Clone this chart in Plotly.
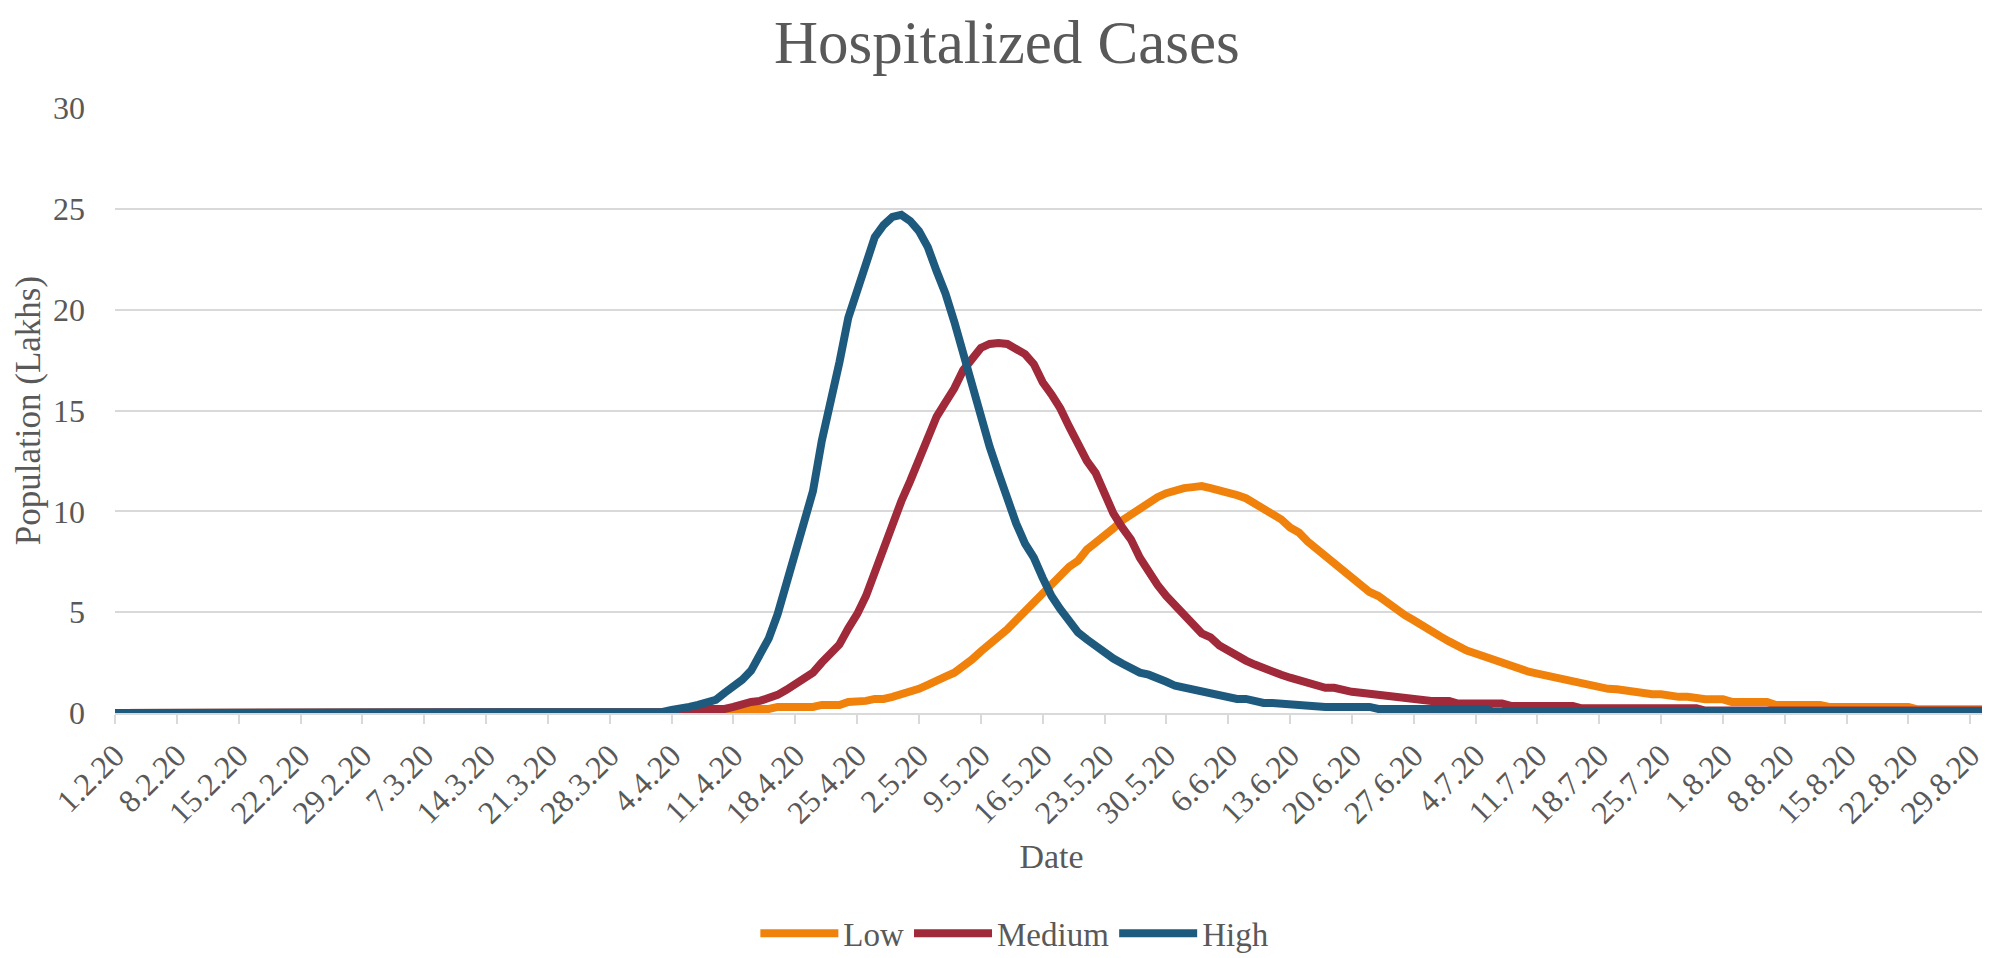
import pandas as pd
import plotly.graph_objects as go

# daily dates 1.2.20 -> 31.8.20
dates = pd.date_range("2020-02-01", "2020-08-31", freq="D")

tick_dates = pd.date_range("2020-02-01", "2020-08-29", freq="7D")
tick_labels = [
    "1.2.20", "8.2.20", "15.2.20", "22.2.20", "29.2.20", "7.3.20", "14.3.20",
    "21.3.20", "28.3.20", "4.4.20", "11.4.20", "18.4.20", "25.4.20", "2.5.20",
    "9.5.20", "16.5.20", "23.5.20", "30.5.20", "6.6.20", "13.6.20", "20.6.20",
    "27.6.20", "4.7.20", "11.7.20", "18.7.20", "25.7.20", "1.8.20", "8.8.20",
    "15.8.20", "22.8.20", "29.8.20",
]

# hospitalized population in lakhs, one row per week
low = [
    0, 0, 0, 0, 0, 0, 0,
    0, 0, 0, 0, 0, 0, 0,
    0.03, 0.03, 0.03, 0.03, 0.03, 0.03, 0.03,
    0.03, 0, 0, 0, 0, 0, 0,
    0, 0, 0, 0, 0, 0, 0,
    0, 0, 0, 0, 0, 0, 0,
    0, 0, 0, 0, 0, 0, 0,
    0, 0, 0, 0, 0, 0, 0,
    0, 0, 0, 0, 0, 0, 0,
    0, 0, 0, 0, 0.02, 0.03, 0.05,
    0.1, 0.2, 0.2, 0.2, 0.2, 0.3, 0.3,
    0.3, 0.3, 0.3, 0.4, 0.4, 0.4, 0.55,
    0.55, 0.6, 0.7, 0.7, 0.8, 0.9, 1.05,
    1.2, 1.4, 1.55, 1.8, 2.0, 2.3, 2.65,
    3.05, 3.4, 3.8, 4.15, 4.6, 5.05, 5.5,
    5.95, 6.4, 6.85, 7.25, 7.55, 8.1, 8.45,
    8.75, 9.15, 9.55, 9.85, 10.15, 10.4, 10.7,
    10.9, 11.05, 11.15, 11.2, 11.25, 11.15, 11.05,
    11.0, 10.8, 10.65, 10.4, 10.2, 9.9, 9.6,
    9.2, 8.95, 8.5, 8.15, 7.8, 7.5, 7.05,
    6.75, 6.4, 6.0, 5.8, 5.45, 5.2, 4.85,
    4.6, 4.3, 4.05, 3.8, 3.55, 3.3, 3.1,
    2.95, 2.8, 2.55, 2.45, 2.3, 2.15, 2.05,
    1.95, 1.85, 1.75, 1.6, 1.5, 1.45, 1.35,
    1.3, 1.2, 1.18, 1.1, 1.06, 1.0, 0.93,
    0.93, 0.85, 0.8, 0.8, 0.7, 0.68, 0.68,
    0.68, 0.55, 0.55, 0.55, 0.55, 0.55, 0.4,
    0.4, 0.4, 0.4, 0.4, 0.4, 0.3, 0.3,
    0.3, 0.3, 0.3, 0.3, 0.3, 0.3, 0.3,
    0.3, 0.18, 0.18, 0.18, 0.18, 0.18, 0.18,
    0.18, 0.18, 0.18,
]

medium = [
    0, 0, 0, 0, 0, 0, 0,
    0, 0, 0, 0, 0, 0, 0,
    0, 0, 0, 0, 0, 0, 0,
    0.03, 0.03, 0.03, 0.03, 0.03, 0.03, 0.03,
    0.03, 0.03, 0.03, 0.03, 0.03, 0.03, 0,
    0, 0, 0, 0, 0, 0, 0,
    0, 0, 0, 0, 0, 0, 0,
    0, 0, 0, 0, 0, 0, 0,
    0, 0, 0, 0, 0, 0, 0,
    0.05, 0.1, 0.18, 0.2, 0.2, 0.2, 0.2,
    0.3, 0.45, 0.55, 0.6, 0.7, 0.9, 1.15,
    1.4, 1.7, 2.0, 2.5, 3.0, 3.4, 4.2,
    4.9, 5.8, 7.0, 8.0, 9.2, 10.5, 11.5,
    12.5, 13.6, 14.7, 15.4, 16.1, 17.0, 17.6,
    18.1, 18.3, 18.35, 18.3, 18.0, 17.8, 17.3,
    16.4, 15.8, 15.1, 14.2, 13.3, 12.5, 11.9,
    10.9, 9.9, 9.2, 8.6, 7.7, 7.0, 6.35,
    5.8, 5.3, 4.8, 4.3, 3.95, 3.75, 3.35,
    3.1, 2.8, 2.6, 2.4, 2.2, 2.05, 1.9,
    1.75, 1.6, 1.45, 1.3, 1.25, 1.25, 1.1,
    1.05, 1.0, 0.95, 0.9, 0.85, 0.75, 0.7,
    0.7, 0.6, 0.6, 0.6, 0.6, 0.47, 0.47,
    0.47, 0.47, 0.47, 0.47, 0.35, 0.35, 0.35,
    0.35, 0.35, 0.35, 0.35, 0.35, 0.23, 0.23,
    0.23, 0.23, 0.23, 0.23, 0.23, 0.23, 0.23,
    0.23, 0.23, 0.23, 0.23, 0.23, 0.12, 0.12,
    0.12, 0.12, 0.12, 0.12, 0.12, 0.12, 0.12,
    0.12, 0.12, 0.12, 0.12, 0.12, 0.12, 0.12,
    0.12, 0.12, 0.12, 0.12, 0.12, 0.12, 0.12,
    0.12, 0.12, 0.12, 0.12, 0.12, 0.12, 0.12,
    0.12, 0.12, 0.12,
]

high = [
    0, 0, 0, 0, 0, 0, 0,
    0, 0, 0, 0, 0, 0, 0,
    0, 0, 0, 0, 0, 0, 0,
    0, 0, 0, 0, 0, 0, 0,
    0, 0, 0, 0, 0, 0, 0,
    0, 0, 0, 0, 0, 0, 0,
    0, 0, 0, 0, 0, 0, 0,
    0, 0, 0, 0, 0, 0, 0,
    0, 0, 0, 0, 0, 0, 0.05,
    0.15, 0.2, 0.3, 0.4, 0.55, 0.65, 1.0,
    1.3, 1.65, 2.1, 2.9, 3.7, 4.9, 6.4,
    7.7, 9.2, 11.0, 13.5, 15.3, 17.4, 19.6,
    21.0, 22.4, 23.6, 24.2, 24.6, 24.7, 24.4,
    23.9, 23.1, 21.9, 20.8, 19.4, 17.8, 16.3,
    14.7, 13.2, 11.9, 10.6, 9.4, 8.4, 7.7,
    6.7, 5.8, 5.15, 4.6, 4.0, 3.65, 3.3,
    3.0, 2.7, 2.45, 2.2, 2.0, 1.9, 1.76,
    1.55, 1.35, 1.25, 1.15, 1.0, 0.9, 0.85,
    0.75, 0.7, 0.7, 0.55, 0.5, 0.5, 0.45,
    0.4, 0.4, 0.4, 0.3, 0.3, 0.3, 0.3,
    0.3, 0.3, 0.3, 0.2, 0.2, 0.2, 0.2,
    0.2, 0.2, 0.2, 0.2, 0.2, 0.2, 0.2,
    0.2, 0.2, 0.07, 0.07, 0.07, 0.07, 0.07,
    0.07, 0.07, 0.07, 0.07, 0.07, 0.07, 0.07,
    0.07, 0.07, 0.07, 0.07, 0.07, 0.07, 0.07,
    0.07, 0.07, 0.07, 0.07, 0.07, 0.07, 0.07,
    0.07, 0.07, 0.07, 0.07, 0.07, 0.07, 0.07,
    0.07, 0.07, 0.07, 0.07, 0.07, 0.07, 0.07,
    0.07, 0.07, 0.07, 0.07, 0.07, 0.07, 0.07,
    0.07, 0.07, 0.07, 0.07, 0.07, 0.07, 0.07,
    0.07, 0.07, 0.07,
]

FONT = "Liberation Serif, Times New Roman, serif"
GREY = "#595959"
GRID = "#D9D9D9"

fig = go.Figure()

fig.add_trace(go.Scatter(x=dates, y=low, mode="lines", name="Low",
                         line=dict(color="#F0820C", width=8)))
fig.add_trace(go.Scatter(x=dates, y=medium, mode="lines", name="Medium",
                         line=dict(color="#A0293A", width=8)))
fig.add_trace(go.Scatter(x=dates, y=high, mode="lines", name="High",
                         line=dict(color="#1E5A7E", width=8)))

# page body has an 8px margin, so the figure is sized to fit the window
fig.update_layout(
    width=1982,
    height=950,
    margin=dict(l=107, r=2, t=100, b=245, autoexpand=False),
    paper_bgcolor="white",
    plot_bgcolor="white",
    font=dict(family=FONT, color=GREY, size=32),
    title=dict(text="Hospitalized Cases", x=0.504, xref="container",
               y=0.965, yanchor="middle",
               font=dict(family=FONT, size=61, color=GREY)),
    legend=dict(orientation="h", xref="container", yref="container",
                x=0.508, xanchor="center", y=0.026, yanchor="middle",
                itemwidth=78,
                font=dict(family=FONT, size=33, color=GREY)),
    showlegend=True,
)

fig.update_xaxes(
    range=[dates[0], dates[-1]],
    tickvals=tick_dates,
    ticktext=tick_labels,
    tickangle=-45,
    tickfont=dict(family=FONT, size=32),
    ticks="outside",
    ticklen=9,
    tickwidth=2,
    tickcolor=GRID,
    showline=True,
    linecolor=GRID,
    linewidth=2,
    showgrid=False,
    zeroline=False,
    automargin=False,
    title=dict(text="Date", font=dict(family=FONT, size=34), standoff=15),
)

fig.update_yaxes(
    range=[0, 30],
    tickvals=[0, 5, 10, 15, 20, 25, 30],
    tickfont=dict(family=FONT, size=32),
    ticklabelstandoff=29,
    showgrid=True,
    gridcolor=GRID,
    gridwidth=2,
    zeroline=False,
    showline=False,
    automargin=False,
    title=dict(text="Population (Lakhs)", font=dict(family=FONT, size=35),
               standoff=1),
)

fig.write_html("out.html")
